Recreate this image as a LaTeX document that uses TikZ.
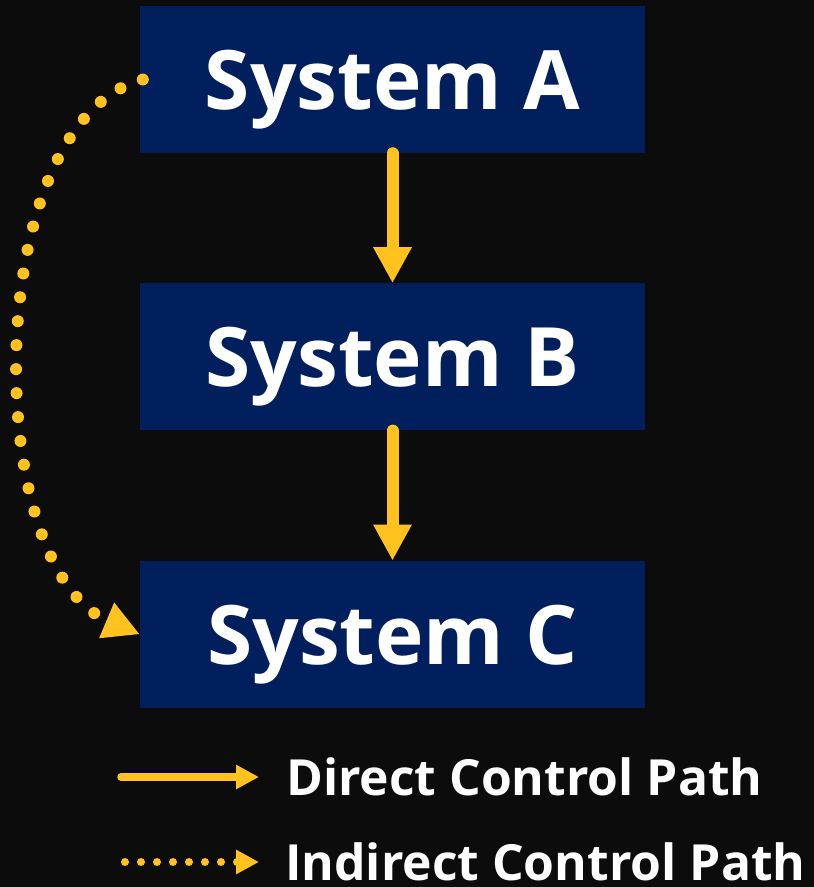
\documentclass[tikz,border=0pt]{standalone}
\usepackage{fontspec}
\setmainfont{Open Sans}
\usetikzlibrary{arrows.meta,positioning}
\definecolor{bgdark}{HTML}{0C0C0C}
\definecolor{boxnavy}{HTML}{001F5C}
\definecolor{pathgold}{HTML}{FFC21E}

\begin{document}
\begin{tikzpicture}[x=1pt,y=-1pt,
  sysbox/.style={fill=boxnavy,text=white,minimum width=505pt,minimum height=147pt,inner sep=0pt,
    text height=60pt,text depth=0pt,font=\fontsize{82}{82}\selectfont\bfseries},
  direct/.style={pathgold,line width=12pt,line cap=round,-{Triangle[width=36pt,length=36pt]}},
  indirect/.style={pathgold,line width=12pt,line cap=round,dash pattern=on 0pt off 24pt,
    -{Triangle[width=36pt,length=36pt]}},
  legdirect/.style={pathgold,line width=7.5pt,line cap=round,-{Triangle[width=23pt,length=23pt]}},
  legindirect/.style={pathgold,line width=8pt,line cap=round,dash pattern=on 0pt off 16pt,
    -{Triangle[width=23pt,length=23pt]}},
  legtext/.style={anchor=base west,text=white,inner sep=0pt,font=\fontsize{49.8}{49.8}\selectfont\bfseries}]
\useasboundingbox (0,0) rectangle (814,887);
\fill[bgdark] (0,0) rectangle (814,887);

\node[sysbox] (sysA) at (392.5,79.5) {System A};
\node[sysbox,below=130pt of sysA] (sysB) {System B};
\node[sysbox,below=130pt of sysB] (sysC) {System C};

\draw[direct] (sysA.south) -- (sysB.north);
\draw[direct] (sysB.south) -- (sysC.north);
\draw[indirect] ([xshift=3pt]sysA.west) .. controls (-20,122) and (-20,567) .. (sysC.west);

% legend
\coordinate (dirS) at (121,777);
\coordinate (dirE) at (259,777);
\coordinate (indS) at (125,862);
\coordinate (indE) at (259,862);
\draw[legdirect] (dirS) -- (dirE);
\draw[legindirect] (indS) -- (indE);
\node[legtext] (dirLbl) at (286,795) {Direct Control Path};
\node[legtext] (indLbl) at (285,880) {Indirect Control Path};
\end{tikzpicture}
\end{document}
